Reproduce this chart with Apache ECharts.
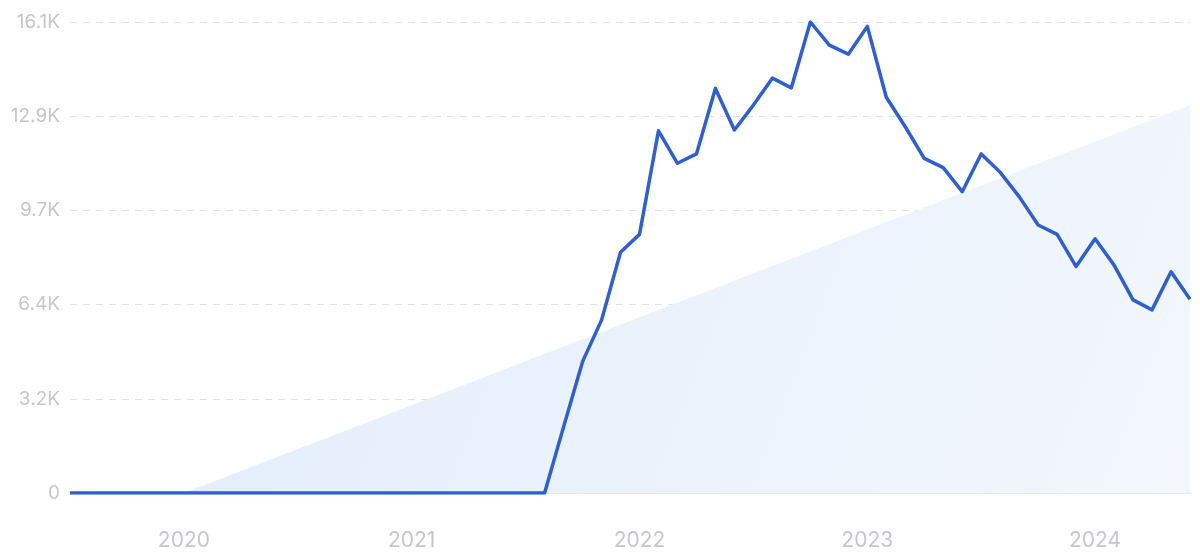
<!DOCTYPE html>
<html>
<head>
<meta charset="utf-8">
<script src="https://cdn.jsdelivr.net/npm/echarts@6/dist/echarts.min.js"></script>
<style>
  html, body { margin: 0; padding: 0; background: #ffffff; }
  #chart { width: 1200px; height: 557px; }
</style>
</head>
<body>
<div id="chart"></div>
<script>
// Monthly categories, Jul 2019 – Jun 2024
const months = [
  '2019-07','2019-08','2019-09','2019-10','2019-11','2019-12',
  '2020-01','2020-02','2020-03','2020-04','2020-05','2020-06','2020-07','2020-08','2020-09','2020-10','2020-11','2020-12',
  '2021-01','2021-02','2021-03','2021-04','2021-05','2021-06','2021-07','2021-08','2021-09','2021-10','2021-11','2021-12',
  '2022-01','2022-02','2022-03','2022-04','2022-05','2022-06','2022-07','2022-08','2022-09','2022-10','2022-11','2022-12',
  '2023-01','2023-02','2023-03','2023-04','2023-05','2023-06','2023-07','2023-08','2023-09','2023-10','2023-11','2023-12',
  '2024-01','2024-02','2024-03','2024-04','2024-05','2024-06'
];

// Search volume values
const volume = [
  0, 0, 0, 0, 0, 0,
  0, 0, 0, 0, 0, 0, 0, 0, 0, 0, 0, 0,
  0, 0, 0, 0, 0, 0, 0, 0, 2260, 4490, 5910, 8230,
  8840, 12380, 11270, 11590, 13830, 12410, 13260, 14180, 13850, 16100, 15310, 15000,
  15950, 13530, 12520, 11440, 11120, 10300, 11590, 10960, 10130, 9160, 8840, 7740,
  8690, 7790, 6600, 6260, 7560, 6620
];

// Trend wedge (two end points)
const trendStart = ['2020-01', 0];
const trendEnd = ['2024-06', 13260];

// Y axis scale
const yMax = 16100;
const yStep = 3220;

const chart = echarts.init(document.getElementById('chart'), null, { renderer: 'canvas' });

chart.setOption({
  animation: false,
  backgroundColor: '#ffffff',
  grid: { left: 70, right: 10, top: 22, bottom: 64, containLabel: false },
  xAxis: {
    type: 'category',
    data: months,
    boundaryGap: false,
    axisLine: { show: true, lineStyle: { color: '#e3e8f1', width: 2 } },
    axisTick: { show: false },
    splitLine: { show: false },
    axisLabel: {
      interval: function (idx, val) { return val.slice(5) === '01'; },
      formatter: function (val) { return val.slice(0, 4); },
      color: '#c6c7cc',
      fontFamily: 'Inter',
      fontSize: 21,
      margin: 37
    }
  },
  yAxis: {
    type: 'value',
    min: 0,
    max: yMax,
    interval: yStep,
    axisLine: { show: false },
    axisTick: { show: false },
    splitLine: { show: true, lineStyle: { color: '#dbe1ed', type: [7, 6], width: 1 } },
    axisLabel: {
      formatter: function (v) { return v === 0 ? '0' : (v / 1000).toFixed(1) + 'K'; },
      color: '#c6c7cc',
      fontFamily: 'Inter',
      fontSize: 19,
      margin: 10
    }
  },
  series: [
    {
      type: 'line',
      data: [trendStart, trendEnd],
      symbol: 'none',
      silent: true,
      lineStyle: { width: 0, opacity: 0 },
      areaStyle: {
        opacity: 1,
        color: new echarts.graphic.LinearGradient(0, 0, 1, 1, [
          { offset: 0, color: '#e2edfb' },
          { offset: 1, color: '#f3f7fd' }
        ])
      },
      z: 1
    },
    {
      type: 'line',
      data: volume,
      symbol: 'none',
      smooth: false,
      lineStyle: { color: '#2f5fd0', width: 3.5, join: 'round' },
      z: 3
    }
  ]
});
</script>
</body>
</html>
